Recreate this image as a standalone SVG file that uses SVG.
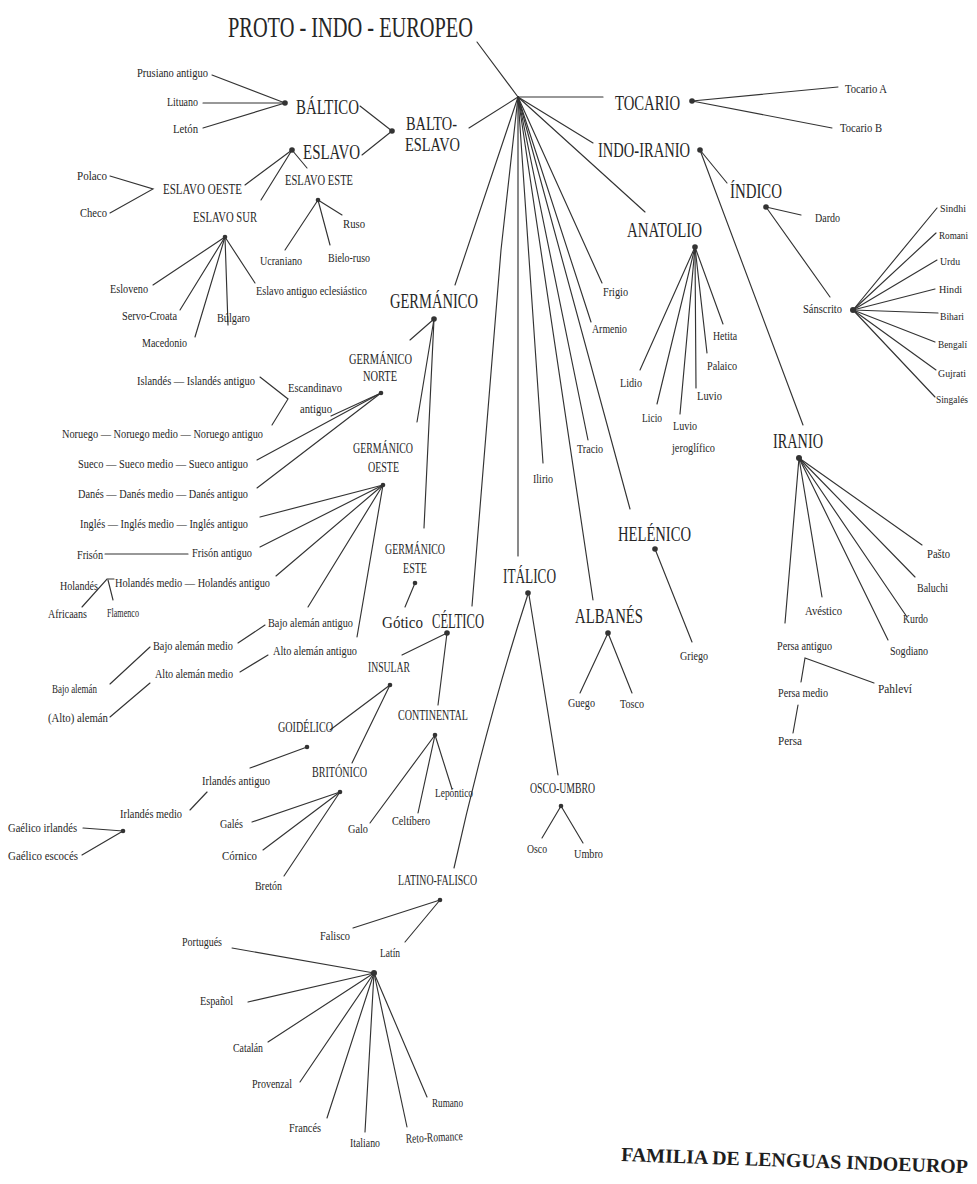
<svg xmlns="http://www.w3.org/2000/svg" width="977" height="1184" viewBox="0 0 977 1184">
<style>
text{font-family:"Liberation Serif","Times New Roman",serif;fill:#262626}
.s{font-size:13px}
.r{font-size:11px}
.m{font-size:15px}
.b{font-size:20px}
.h{font-size:30px}
.f{font-size:20px;font-weight:bold;fill:#1e1e1e}
.d{fill:#333}
#conn line,#conn polyline,#conn path{stroke:#333;stroke-width:1.15;fill:none;stroke-linecap:round}
</style>
<rect width="977" height="1184" fill="#fff"/>
<g id="conn">
<line x1="477" y1="42" x2="518" y2="97"/>
<line x1="518" y1="97" x2="603" y2="97"/>
<line x1="518" y1="97" x2="593" y2="143"/>
<line x1="518" y1="97" x2="645" y2="212"/>
<line x1="518" y1="97" x2="602" y2="283"/>
<line x1="518" y1="97" x2="591" y2="322"/>
<line x1="518" y1="97" x2="630" y2="509"/>
<line x1="518" y1="97" x2="588" y2="440"/>
<line x1="518" y1="97" x2="593" y2="600"/>
<line x1="518" y1="97" x2="543" y2="463"/>
<line x1="518" y1="97" x2="518" y2="556"/>
<polyline points="518,97 501,250 472,606"/>
<line x1="518" y1="97" x2="455" y2="285"/>
<line x1="518" y1="97" x2="469" y2="128"/>
<line x1="692" y1="101" x2="838" y2="87"/>
<line x1="692" y1="101" x2="832" y2="128"/>
<line x1="700" y1="150" x2="727" y2="183"/>
<line x1="700" y1="150" x2="803" y2="425"/>
<line x1="766" y1="207" x2="801" y2="215"/>
<line x1="766" y1="207" x2="830" y2="297"/>
<line x1="853" y1="310" x2="937" y2="208"/>
<line x1="853" y1="310" x2="936" y2="233"/>
<line x1="853" y1="310" x2="937" y2="260"/>
<line x1="853" y1="310" x2="935" y2="289"/>
<line x1="853" y1="310" x2="938" y2="313"/>
<line x1="853" y1="310" x2="935" y2="342"/>
<line x1="853" y1="310" x2="936" y2="370"/>
<line x1="853" y1="310" x2="935" y2="397"/>
<line x1="799" y1="458" x2="922" y2="545"/>
<line x1="799" y1="458" x2="915" y2="577"/>
<line x1="799" y1="458" x2="907" y2="617"/>
<line x1="799" y1="458" x2="888" y2="640"/>
<line x1="799" y1="458" x2="822" y2="597"/>
<line x1="799" y1="458" x2="785" y2="623"/>
<polyline points="801,682 805,658 874,683"/>
<line x1="798" y1="705" x2="793" y2="733"/>
<line x1="695" y1="247" x2="640" y2="370"/>
<line x1="695" y1="247" x2="657" y2="404"/>
<line x1="695" y1="247" x2="680" y2="414"/>
<line x1="695" y1="247" x2="696" y2="388"/>
<line x1="695" y1="247" x2="707" y2="353"/>
<line x1="695" y1="247" x2="723" y2="324"/>
<line x1="655" y1="549" x2="692" y2="642"/>
<line x1="608" y1="633" x2="580" y2="693"/>
<line x1="608" y1="633" x2="632" y2="693"/>
<line x1="529" y1="595" x2="558" y2="775"/>
<path d="M528,594 Q487,720 454,868"/>
<line x1="561" y1="806" x2="542" y2="838"/>
<line x1="561" y1="806" x2="583" y2="843"/>
<line x1="440" y1="900" x2="353" y2="928"/>
<line x1="440" y1="900" x2="405" y2="942"/>
<line x1="374" y1="973" x2="232" y2="948"/>
<line x1="374" y1="973" x2="248" y2="1002"/>
<line x1="374" y1="973" x2="268" y2="1042"/>
<line x1="374" y1="973" x2="300" y2="1082"/>
<line x1="374" y1="973" x2="327" y2="1118"/>
<line x1="374" y1="973" x2="365" y2="1132"/>
<line x1="374" y1="973" x2="407" y2="1127"/>
<line x1="374" y1="973" x2="427" y2="1097"/>
<line x1="212" y1="75" x2="285" y2="103"/>
<line x1="203" y1="103" x2="285" y2="103"/>
<line x1="203" y1="128" x2="285" y2="103"/>
<line x1="360" y1="106" x2="392" y2="131"/>
<line x1="362" y1="155" x2="392" y2="131"/>
<line x1="292" y1="150" x2="245" y2="185"/>
<line x1="292" y1="150" x2="307" y2="168"/>
<line x1="292" y1="150" x2="261" y2="200"/>
<polyline points="110,176 153,189 110,213"/>
<line x1="318" y1="200" x2="342" y2="215"/>
<line x1="318" y1="200" x2="285" y2="250"/>
<line x1="318" y1="200" x2="330" y2="245"/>
<line x1="225" y1="237" x2="153" y2="285"/>
<line x1="225" y1="237" x2="180" y2="310"/>
<line x1="225" y1="237" x2="195" y2="337"/>
<line x1="225" y1="237" x2="228" y2="325"/>
<line x1="225" y1="237" x2="255" y2="283"/>
<line x1="434" y1="319" x2="410" y2="340"/>
<line x1="434" y1="319" x2="417" y2="422"/>
<line x1="434" y1="319" x2="424" y2="528"/>
<line x1="381" y1="393" x2="331" y2="416"/>
<line x1="381" y1="393" x2="257" y2="460"/>
<line x1="381" y1="393" x2="257" y2="488"/>
<polyline points="260,377 288,399 272,425"/>
<line x1="383" y1="485" x2="260" y2="517"/>
<line x1="383" y1="485" x2="260" y2="547"/>
<line x1="383" y1="485" x2="276" y2="576"/>
<line x1="383" y1="485" x2="308" y2="607"/>
<line x1="383" y1="485" x2="357" y2="637"/>
<line x1="105" y1="554" x2="188" y2="554"/>
<polyline points="82,607 107,579 114,579"/>
<line x1="108" y1="580" x2="113" y2="600"/>
<line x1="265" y1="625" x2="238" y2="643"/>
<line x1="150" y1="647" x2="110" y2="684"/>
<line x1="268" y1="655" x2="240" y2="672"/>
<line x1="150" y1="683" x2="110" y2="717"/>
<line x1="415" y1="583" x2="405" y2="607"/>
<line x1="447" y1="633" x2="402" y2="655"/>
<line x1="447" y1="633" x2="438" y2="705"/>
<line x1="390" y1="685" x2="330" y2="730"/>
<line x1="390" y1="685" x2="352" y2="763"/>
<line x1="307" y1="747" x2="250" y2="768"/>
<line x1="207" y1="792" x2="190" y2="810"/>
<line x1="83" y1="828" x2="123" y2="831"/>
<line x1="82" y1="855" x2="123" y2="831"/>
<line x1="340" y1="792" x2="252" y2="822"/>
<line x1="340" y1="792" x2="263" y2="850"/>
<line x1="340" y1="792" x2="284" y2="876"/>
<line x1="435" y1="735" x2="370" y2="823"/>
<line x1="435" y1="735" x2="418" y2="813"/>
<line x1="435" y1="735" x2="452" y2="789"/>
</g>

<g id="n-pie"><text class="h" x="228" y="37" textLength="245" lengthAdjust="spacingAndGlyphs">PROTO - INDO - EUROPEO</text></g>

<g id="n-baltico"><text class="b" x="296" y="114" textLength="63" lengthAdjust="spacingAndGlyphs">BÁLTICO</text><circle class="d" cx="285" cy="103" r="2.8"/></g>
<g id="n-prusiano"><text class="s" x="137" y="77" textLength="71" lengthAdjust="spacingAndGlyphs">Prusiano antiguo</text></g>
<g id="n-lituano"><text class="s" x="167" y="106" textLength="31" lengthAdjust="spacingAndGlyphs">Lituano</text></g>
<g id="n-leton"><text class="s" x="173" y="133" textLength="25" lengthAdjust="spacingAndGlyphs">Letón</text></g>
<g id="n-baltoeslavo"><text style="font-size:18px"><tspan x="406" y="130" textLength="51" lengthAdjust="spacingAndGlyphs">BALTO-</tspan><tspan x="405" y="151" textLength="55" lengthAdjust="spacingAndGlyphs">ESLAVO</tspan></text><circle class="d" cx="392" cy="131" r="2.8"/></g>
<g id="n-eslavo"><text class="b" x="303" y="159" textLength="57" lengthAdjust="spacingAndGlyphs">ESLAVO</text><circle class="d" cx="292" cy="150" r="2.8"/></g>
<g id="n-eslavo-oeste"><text class="m" x="163" y="194" textLength="79" lengthAdjust="spacingAndGlyphs">ESLAVO OESTE</text></g>
<g id="n-polaco"><text class="s" x="77" y="180" textLength="30" lengthAdjust="spacingAndGlyphs">Polaco</text></g>
<g id="n-checo"><text class="s" x="80" y="217" textLength="27" lengthAdjust="spacingAndGlyphs">Checo</text></g>
<g id="n-eslavo-este"><text class="m" x="285" y="185" textLength="68" lengthAdjust="spacingAndGlyphs">ESLAVO ESTE</text><circle class="d" cx="318" cy="200" r="2.3"/></g>
<g id="n-ruso"><text class="s" x="343" y="228" textLength="22" lengthAdjust="spacingAndGlyphs">Ruso</text></g>
<g id="n-ucraniano"><text class="s" x="260" y="265" textLength="42" lengthAdjust="spacingAndGlyphs">Ucraniano</text></g>
<g id="n-bieloruso"><text class="s" x="328" y="262" textLength="42" lengthAdjust="spacingAndGlyphs">Bielo-ruso</text></g>
<g id="n-eslavo-sur"><text class="m" x="193" y="222" textLength="64" lengthAdjust="spacingAndGlyphs">ESLAVO SUR</text><circle class="d" cx="225" cy="237" r="2.3"/></g>
<g id="n-esloveno"><text class="s" x="110" y="293" textLength="38" lengthAdjust="spacingAndGlyphs">Esloveno</text></g>
<g id="n-servocroata"><text class="s" x="122" y="320" textLength="55" lengthAdjust="spacingAndGlyphs">Servo-Croata</text></g>
<g id="n-macedonio"><text class="s" x="142" y="347" textLength="45" lengthAdjust="spacingAndGlyphs">Macedonio</text></g>
<g id="n-bulgaro"><text class="s" x="217" y="322" textLength="33" lengthAdjust="spacingAndGlyphs">Búlgaro</text></g>
<g id="n-eslavo-ecl"><text class="s" x="256" y="295" textLength="111" lengthAdjust="spacingAndGlyphs">Eslavo antiguo eclesiástico</text></g>

<g id="n-tocario"><text class="b" x="615" y="110" textLength="65" lengthAdjust="spacingAndGlyphs">TOCARIO</text><circle class="d" cx="692" cy="101" r="2.8"/></g>
<g id="n-tocario-a"><text class="s" x="845" y="93" textLength="42" lengthAdjust="spacingAndGlyphs">Tocario A</text></g>
<g id="n-tocario-b"><text class="s" x="840" y="132" textLength="42" lengthAdjust="spacingAndGlyphs">Tocario B</text></g>

<g id="n-indoiranio"><text class="b" x="598" y="157" textLength="92" lengthAdjust="spacingAndGlyphs">INDO-IRANIO</text><circle class="d" cx="700" cy="150" r="2.8"/></g>
<g id="n-indico"><text class="b" x="730" y="198" textLength="52" lengthAdjust="spacingAndGlyphs">ÍNDICO</text><circle class="d" cx="766" cy="207" r="2.8"/></g>
<g id="n-dardo"><text class="s" x="815" y="222" textLength="25" lengthAdjust="spacingAndGlyphs">Dardo</text></g>
<g id="n-sanscrito"><text class="s" x="803" y="313" textLength="39" lengthAdjust="spacingAndGlyphs">Sánscrito</text><circle class="d" cx="853" cy="310" r="3"/></g>
<g id="n-sindhi"><text class="r" x="940" y="212" textLength="26" lengthAdjust="spacingAndGlyphs">Sindhi</text></g>
<g id="n-romani"><text class="r" x="939" y="239" textLength="29" lengthAdjust="spacingAndGlyphs">Romani</text></g>
<g id="n-urdu"><text class="r" x="940" y="265" textLength="20" lengthAdjust="spacingAndGlyphs">Urdu</text></g>
<g id="n-hindi"><text class="r" x="939" y="293" textLength="23" lengthAdjust="spacingAndGlyphs">Hindi</text></g>
<g id="n-bihari"><text class="r" x="940" y="320" textLength="24" lengthAdjust="spacingAndGlyphs">Bihari</text></g>
<g id="n-bengali"><text class="r" x="938" y="348" textLength="29" lengthAdjust="spacingAndGlyphs">Bengalí</text></g>
<g id="n-gujrati"><text class="r" x="938" y="377" textLength="28" lengthAdjust="spacingAndGlyphs">Gujrati</text></g>
<g id="n-singales"><text class="r" x="936" y="403" textLength="32" lengthAdjust="spacingAndGlyphs">Singalés</text></g>

<g id="n-iranio"><text class="b" x="773" y="448" textLength="50" lengthAdjust="spacingAndGlyphs">IRANIO</text><circle class="d" cx="799" cy="458" r="3"/></g>
<g id="n-pasto"><text class="s" x="927" y="558" textLength="23" lengthAdjust="spacingAndGlyphs">Pašto</text></g>
<g id="n-baluchi"><text class="s" x="917" y="592" textLength="31" lengthAdjust="spacingAndGlyphs">Baluchi</text></g>
<g id="n-kurdo"><text class="s" x="903" y="623" textLength="25" lengthAdjust="spacingAndGlyphs">Kurdo</text></g>
<g id="n-sogdiano"><text class="s" x="890" y="655" textLength="38" lengthAdjust="spacingAndGlyphs">Sogdiano</text></g>
<g id="n-avestico"><text class="s" x="805" y="615" textLength="37" lengthAdjust="spacingAndGlyphs">Avéstico</text></g>
<g id="n-persa-antiguo"><text class="s" x="777" y="650" textLength="55" lengthAdjust="spacingAndGlyphs">Persa antiguo</text></g>
<g id="n-persa-medio"><text class="s" x="778" y="697" textLength="50" lengthAdjust="spacingAndGlyphs">Persa medio</text></g>
<g id="n-pahlevi"><text class="s" x="878" y="693" textLength="34" lengthAdjust="spacingAndGlyphs">Pahleví</text></g>
<g id="n-persa"><text class="s" x="778" y="745" textLength="24" lengthAdjust="spacingAndGlyphs">Persa</text></g>

<g id="n-anatolio"><text class="b" x="627" y="237" textLength="75" lengthAdjust="spacingAndGlyphs">ANATOLIO</text><circle class="d" cx="695" cy="247" r="2.8"/></g>
<g id="n-hetita"><text class="s" x="713" y="340" textLength="24" lengthAdjust="spacingAndGlyphs">Hetita</text></g>
<g id="n-palaico"><text class="s" x="707" y="370" textLength="30" lengthAdjust="spacingAndGlyphs">Palaico</text></g>
<g id="n-luvio"><text class="s" x="697" y="400" textLength="25" lengthAdjust="spacingAndGlyphs">Luvio</text></g>
<g id="n-lidio"><text class="s" x="620" y="387" textLength="22" lengthAdjust="spacingAndGlyphs">Lidio</text></g>
<g id="n-licio"><text class="s" x="642" y="422" textLength="20" lengthAdjust="spacingAndGlyphs">Licio</text></g>
<g id="n-luvio-jer"><text class="s"><tspan x="673" y="430" textLength="24" lengthAdjust="spacingAndGlyphs">Luvio</tspan><tspan x="672" y="452" textLength="43" lengthAdjust="spacingAndGlyphs">jeroglífico</tspan></text></g>
<g id="n-frigio"><text class="s" x="603" y="296" textLength="25" lengthAdjust="spacingAndGlyphs">Frigio</text></g>
<g id="n-armenio"><text class="s" x="592" y="333" textLength="35" lengthAdjust="spacingAndGlyphs">Armenio</text></g>
<g id="n-tracio"><text class="s" x="577" y="453" textLength="26" lengthAdjust="spacingAndGlyphs">Tracio</text></g>
<g id="n-ilirio"><text class="s" x="533" y="483" textLength="20" lengthAdjust="spacingAndGlyphs">Ilirio</text></g>

<g id="n-helenico"><text class="b" x="618" y="541" textLength="73" lengthAdjust="spacingAndGlyphs">HELÉNICO</text><circle class="d" cx="655" cy="549" r="2.8"/></g>
<g id="n-griego"><text class="s" x="680" y="660" textLength="28" lengthAdjust="spacingAndGlyphs">Griego</text></g>
<g id="n-albanes"><text class="b" x="575" y="623" textLength="68" lengthAdjust="spacingAndGlyphs">ALBANÉS</text><circle class="d" cx="608" cy="633" r="2.8"/></g>
<g id="n-guego"><text class="s" x="568" y="707" textLength="27" lengthAdjust="spacingAndGlyphs">Guego</text></g>
<g id="n-tosco"><text class="s" x="620" y="708" textLength="24" lengthAdjust="spacingAndGlyphs">Tosco</text></g>

<g id="n-italico"><text class="b" x="503" y="583" textLength="53" lengthAdjust="spacingAndGlyphs">ITÁLICO</text><circle class="d" cx="528" cy="593" r="2.8"/></g>
<g id="n-osco-umbro"><text class="m" x="530" y="793" textLength="65" lengthAdjust="spacingAndGlyphs">OSCO-UMBRO</text><circle class="d" cx="561" cy="806" r="2.3"/></g>
<g id="n-osco"><text class="s" x="527" y="853" textLength="20" lengthAdjust="spacingAndGlyphs">Osco</text></g>
<g id="n-umbro"><text class="s" x="574" y="858" textLength="29" lengthAdjust="spacingAndGlyphs">Umbro</text></g>
<g id="n-latino-falisco"><text class="m" x="398" y="885" textLength="79" lengthAdjust="spacingAndGlyphs">LATINO-FALISCO</text><circle class="d" cx="440" cy="900" r="2.3"/></g>
<g id="n-falisco"><text class="s" x="320" y="940" textLength="30" lengthAdjust="spacingAndGlyphs">Falisco</text></g>
<g id="n-latin"><text class="s" x="380" y="957" textLength="20" lengthAdjust="spacingAndGlyphs">Latín</text><circle class="d" cx="374" cy="973" r="3"/></g>
<g id="n-portugues"><text class="s" x="182" y="946" textLength="40" lengthAdjust="spacingAndGlyphs">Portugués</text></g>
<g id="n-espanol"><text class="s" x="200" y="1005" textLength="33" lengthAdjust="spacingAndGlyphs">Español</text></g>
<g id="n-catalan"><text class="s" x="233" y="1052" textLength="30" lengthAdjust="spacingAndGlyphs">Catalán</text></g>
<g id="n-provenzal"><text class="s" x="252" y="1088" textLength="40" lengthAdjust="spacingAndGlyphs">Provenzal</text></g>
<g id="n-frances"><text class="s" x="289" y="1132" textLength="32" lengthAdjust="spacingAndGlyphs">Francés</text></g>
<g id="n-italiano"><text class="s" x="350" y="1147" textLength="30" lengthAdjust="spacingAndGlyphs">Italiano</text></g>
<g id="n-retoromance"><text class="s" x="406" y="1143" textLength="57" lengthAdjust="spacingAndGlyphs" transform="rotate(-3 406 1143)">Reto-Romance</text></g>
<g id="n-rumano"><text class="s" x="432" y="1107" textLength="31" lengthAdjust="spacingAndGlyphs">Rumano</text></g>

<g id="n-germanico"><text class="b" x="390" y="308" textLength="88" lengthAdjust="spacingAndGlyphs">GERMÁNICO</text><circle class="d" cx="434" cy="319" r="2.8"/></g>
<g id="n-germ-norte"><text class="m"><tspan x="349" y="364" textLength="63" lengthAdjust="spacingAndGlyphs">GERMÁNICO</tspan><tspan x="363" y="381" textLength="34" lengthAdjust="spacingAndGlyphs">NORTE</tspan></text><circle class="d" cx="381" cy="393" r="2.3"/></g>
<g id="n-escandinavo"><text class="s"><tspan x="288" y="392" textLength="54" lengthAdjust="spacingAndGlyphs">Escandinavo</tspan><tspan x="300" y="413" textLength="32" lengthAdjust="spacingAndGlyphs">antiguo</tspan></text></g>
<g id="n-islandes"><text class="s" x="137" y="385" textLength="118" lengthAdjust="spacingAndGlyphs">Islandés — Islandés antiguo</text></g>
<g id="n-noruego"><text class="s" x="62" y="438" textLength="201" lengthAdjust="spacingAndGlyphs">Noruego — Noruego medio — Noruego antiguo</text></g>
<g id="n-sueco"><text class="s" x="78" y="468" textLength="170" lengthAdjust="spacingAndGlyphs">Sueco — Sueco medio — Sueco antiguo</text></g>
<g id="n-danes"><text class="s" x="78" y="498" textLength="170" lengthAdjust="spacingAndGlyphs">Danés — Danés medio — Danés antiguo</text></g>
<g id="n-germ-oeste"><text class="m"><tspan x="353" y="453" textLength="60" lengthAdjust="spacingAndGlyphs">GERMÁNICO</tspan><tspan x="368" y="472" textLength="31" lengthAdjust="spacingAndGlyphs">OESTE</tspan></text><circle class="d" cx="383" cy="485" r="2.3"/></g>
<g id="n-ingles"><text class="s" x="80" y="528" textLength="168" lengthAdjust="spacingAndGlyphs">Inglés — Inglés medio — Inglés antiguo</text></g>
<g id="n-frison"><text class="s" x="77" y="559" textLength="26" lengthAdjust="spacingAndGlyphs">Frisón</text><text class="s" x="192" y="557" textLength="60" lengthAdjust="spacingAndGlyphs">Frisón antiguo</text></g>
<g id="n-holandes"><text class="s" x="60" y="590" textLength="38" lengthAdjust="spacingAndGlyphs">Holandés</text><text class="s" x="115" y="587" textLength="155" lengthAdjust="spacingAndGlyphs">Holandés medio — Holandés antiguo</text></g>
<g id="n-africaans"><text class="s" x="48" y="618" textLength="39" lengthAdjust="spacingAndGlyphs">Africaans</text></g>
<g id="n-flamenco"><text class="s" x="107" y="617" textLength="32" lengthAdjust="spacingAndGlyphs">Flamenco</text></g>
<g id="n-bajo-antiguo"><text class="s" x="268" y="627" textLength="85" lengthAdjust="spacingAndGlyphs">Bajo alemán antiguo</text></g>
<g id="n-bajo-medio"><text class="s" x="153" y="650" textLength="80" lengthAdjust="spacingAndGlyphs">Bajo alemán medio</text></g>
<g id="n-bajo"><text class="s" x="52" y="693" textLength="45" lengthAdjust="spacingAndGlyphs">Bajo alemán</text></g>
<g id="n-alto-antiguo"><text class="s" x="273" y="655" textLength="84" lengthAdjust="spacingAndGlyphs">Alto alemán antiguo</text></g>
<g id="n-alto-medio"><text class="s" x="155" y="678" textLength="78" lengthAdjust="spacingAndGlyphs">Alto alemán medio</text></g>
<g id="n-alto"><text class="s" x="48" y="722" textLength="60" lengthAdjust="spacingAndGlyphs">(Alto) alemán</text></g>
<g id="n-germ-este"><text class="m"><tspan x="385" y="554" textLength="60" lengthAdjust="spacingAndGlyphs">GERMÁNICO</tspan><tspan x="403" y="573" textLength="24" lengthAdjust="spacingAndGlyphs">ESTE</tspan></text><circle class="d" cx="415" cy="583" r="2.3"/></g>
<g id="n-gotico"><text style="font-size:17.5px" x="382" y="628" textLength="41" lengthAdjust="spacingAndGlyphs">Gótico</text></g>

<g id="n-celtico"><text class="b" x="432" y="628" textLength="52" lengthAdjust="spacingAndGlyphs">CÉLTICO</text><circle class="d" cx="447" cy="633" r="2.8"/></g>
<g id="n-insular"><text class="m" x="368" y="672" textLength="42" lengthAdjust="spacingAndGlyphs">INSULAR</text><circle class="d" cx="390" cy="685" r="2.3"/></g>
<g id="n-continental"><text class="m" x="398" y="720" textLength="70" lengthAdjust="spacingAndGlyphs">CONTINENTAL</text><circle class="d" cx="435" cy="735" r="2.3"/></g>
<g id="n-galo"><text class="s" x="348" y="833" textLength="20" lengthAdjust="spacingAndGlyphs">Galo</text></g>
<g id="n-celtibero"><text class="s" x="392" y="825" textLength="38" lengthAdjust="spacingAndGlyphs">Celtíbero</text></g>
<g id="n-lepontico"><text class="s" x="435" y="797" textLength="38" lengthAdjust="spacingAndGlyphs">Lepóntico</text></g>
<g id="n-goidelico"><text class="m" x="278" y="732" textLength="55" lengthAdjust="spacingAndGlyphs">GOIDÉLICO</text><circle class="d" cx="307" cy="747" r="2.3"/></g>
<g id="n-irl-antiguo"><text class="s" x="202" y="785" textLength="68" lengthAdjust="spacingAndGlyphs">Irlandés antiguo</text></g>
<g id="n-irl-medio"><text class="s" x="120" y="818" textLength="62" lengthAdjust="spacingAndGlyphs">Irlandés medio</text><circle class="d" cx="123" cy="831" r="2.3"/></g>
<g id="n-gael-irl"><text class="s" x="8" y="832" textLength="69" lengthAdjust="spacingAndGlyphs">Gaélico irlandés</text></g>
<g id="n-gael-esc"><text class="s" x="8" y="860" textLength="70" lengthAdjust="spacingAndGlyphs">Gaélico escocés</text></g>
<g id="n-britonico"><text class="m" x="312" y="777" textLength="55" lengthAdjust="spacingAndGlyphs">BRITÓNICO</text><circle class="d" cx="340" cy="792" r="2.3"/></g>
<g id="n-gales"><text class="s" x="220" y="828" textLength="23" lengthAdjust="spacingAndGlyphs">Galés</text></g>
<g id="n-cornico"><text class="s" x="222" y="860" textLength="35" lengthAdjust="spacingAndGlyphs">Córnico</text></g>
<g id="n-breton"><text class="s" x="255" y="890" textLength="27" lengthAdjust="spacingAndGlyphs">Bretón</text></g>

<g id="title"><text class="f" x="621" y="1161" textLength="347" lengthAdjust="spacingAndGlyphs" transform="rotate(2 621 1161)">FAMILIA DE LENGUAS INDOEUROP</text></g>
</svg>
